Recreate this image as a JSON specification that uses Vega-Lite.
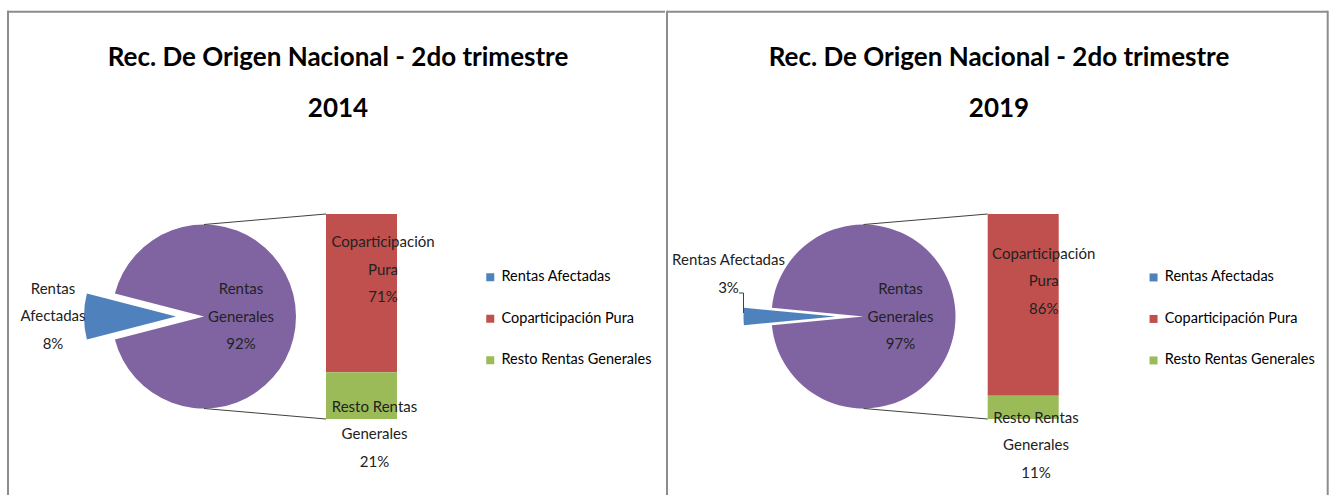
{
  "$schema": "https://vega.github.io/schema/vega-lite/v6.json",
  "padding": {"left": 0, "top": 9.7, "right": 0, "bottom": 0},
  "background": "white",
  "spacing": 0,
  "config": {"view": {"stroke": null}, "font": "Lato"},
  "resolve": {
    "scale": {"color": "independent", "theta": "independent", "x": "independent", "y": "independent"},
    "legend": {"color": "independent"}
  },
  "datasets": {
    "pie2014": [
      {"cat": "Rentas Afectadas", "value": 8, "label": "Rentas\nAfectadas\n8%"},
      {"cat": "Rentas Generales", "value": 92, "label": "Rentas\nGenerales\n92%"}
    ],
    "bar2014": [
      {"year": "2014", "cat": "Coparticipación Pura", "value": 71, "label": "Coparticipación\nPura\n71%"},
      {"year": "2014", "cat": "Resto Rentas Generales", "value": 21, "label": "Resto Rentas\nGenerales\n21%"}
    ],
    "pie2019": [
      {"cat": "Rentas Afectadas", "value": 3, "label": "Rentas Afectadas\n3%"},
      {"cat": "Rentas Generales", "value": 97, "label": "Rentas\nGenerales\n97%"}
    ],
    "bar2019": [
      {"year": "2019", "cat": "Coparticipación Pura", "value": 86, "label": "Coparticipación\nPura\n86%"},
      {"year": "2019", "cat": "Resto Rentas Generales", "value": 11, "label": "Resto Rentas\nGenerales\n11%"}
    ],
    "deco": [{}]
  },
  "hconcat": [
    {
      "width": 665,
      "height": 485.3,
      "title": {"text": ["Rec. De Origen Nacional - 2do trimestre", "2014"], "fontSize": 26, "font": "Lato", "fontWeight": "bold", "lineHeight": 51, "baseline": "bottom", "offset": -137.8, "anchor": "middle", "dx": 5.5, "color": "#000000", "frame": "group"},
      "layer": [
        {
          "data": {"name": "bar2014"},
          "mark": {"type": "bar"},
          "encoding": {
            "x": {"field": "year", "type": "nominal", "scale": {"range": [326, 397], "paddingInner": 0, "paddingOuter": 0}, "axis": null},
            "y": {"field": "value", "type": "quantitative", "stack": "normalize", "scale": {"range": [408.3, 203.3]}, "axis": null},
            "color": {
              "field": "cat", "type": "nominal",
              "scale": {"domain": ["Rentas Afectadas", "Coparticipación Pura", "Resto Rentas Generales", "Rentas Generales"], "range": ["#4F81BD", "#C0504D", "#9BBB59", "#8064A2"]},
              "legend": {"title": null, "orient": "none", "legendX": 483, "legendY": 259.3, "values": ["Rentas Afectadas", "Coparticipación Pura", "Resto Rentas Generales"], "symbolType": "square", "symbolSize": 64, "symbolStrokeWidth": 0, "labelFont": "Lato", "labelFontSize": 14.5, "labelColor": "#000000", "labelOffset": 4, "rowPadding": 26.5, "padding": 0, "labelLimit": 300}
            },
            "order": {"field": "cat", "sort": "descending"}
          }
        },
        {
          "data": {"name": "bar2014"},
          "mark": {"type": "text", "dx": 21.5, "dy": 28, "baseline": "middle", "align": "center", "lineBreak": "\n", "lineHeight": 27.5, "fontSize": 15, "font": "Lato", "color": "#222222"},
          "encoding": {
            "x": {"field": "year", "type": "nominal", "axis": null},
            "y": {"field": "value", "type": "quantitative", "stack": "normalize", "axis": null},
            "detail": {"field": "cat"},
            "order": {"field": "cat", "sort": "descending"},
            "text": {"field": "label"},
            "opacity": {"condition": {"test": "datum.cat === 'Coparticipación Pura'", "value": 1}, "value": 0}
          }
        },
        {
          "data": {"name": "bar2014"},
          "mark": {"type": "text", "dx": 13, "dy": 34.5, "baseline": "middle", "align": "center", "lineBreak": "\n", "lineHeight": 27.5, "fontSize": 15, "font": "Lato", "color": "#222222"},
          "encoding": {
            "x": {"field": "year", "type": "nominal", "axis": null},
            "y": {"field": "value", "type": "quantitative", "stack": "normalize", "axis": null},
            "detail": {"field": "cat"},
            "order": {"field": "cat", "sort": "descending"},
            "text": {"field": "label"},
            "opacity": {"condition": {"test": "datum.cat === 'Resto Rentas Generales'", "value": 1}, "value": 0}
          }
        },
        {
          "data": {"name": "pie2014"},
          "mark": {"type": "arc", "x": 204, "y": 305.8, "outerRadius": 92},
          "encoding": {
            "theta": {"field": "value", "type": "quantitative", "stack": true, "scale": {"domain": [0, 100], "range": [4.4611, 10.7443]}},
            "color": {"field": "cat", "type": "nominal"},
            "order": {"field": "cat", "sort": "ascending"},
            "opacity": {"condition": {"test": "datum.cat === 'Rentas Generales'", "value": 1}, "value": 0}
          }
        },
        {
          "data": {"name": "pie2014"},
          "mark": {"type": "arc", "x": 176, "y": 305.8, "outerRadius": 92},
          "encoding": {
            "theta": {"field": "value", "type": "quantitative", "stack": true},
            "color": {"field": "cat", "type": "nominal"},
            "order": {"field": "cat", "sort": "ascending"},
            "opacity": {"condition": {"test": "datum.cat === 'Rentas Afectadas'", "value": 1}, "value": 0}
          }
        },
        {
          "data": {"name": "pie2014"},
          "mark": {"type": "text", "x": 204, "y": 305.8, "radius": 37, "dy": -27.5, "baseline": "middle", "align": "center", "lineBreak": "\n", "lineHeight": 27.5, "fontSize": 15, "font": "Lato", "color": "#222222"},
          "encoding": {
            "theta": {"field": "value", "type": "quantitative", "stack": true},
            "detail": {"field": "cat"},
            "order": {"field": "cat", "sort": "ascending"},
            "text": {"field": "label"},
            "opacity": {"condition": {"test": "datum.cat === 'Rentas Generales'", "value": 1}, "value": 0}
          }
        },
        {
          "data": {"name": "pie2014"},
          "mark": {"type": "text", "x": 176, "y": 305.8, "radius": 123, "dy": -27.5, "baseline": "middle", "align": "center", "lineBreak": "\n", "lineHeight": 27.5, "fontSize": 15, "font": "Lato", "color": "#222222"},
          "encoding": {
            "theta": {"field": "value", "type": "quantitative", "stack": true},
            "detail": {"field": "cat"},
            "order": {"field": "cat", "sort": "ascending"},
            "text": {"field": "label"},
            "opacity": {"condition": {"test": "datum.cat === 'Rentas Afectadas'", "value": 1}, "value": 0}
          }
        },
        {"data": {"name": "deco"}, "mark": {"type": "rule", "color": "#404040", "strokeWidth": 1}, "encoding": {"x": {"value": 204}, "y": {"value": 213.8}, "x2": {"value": 326}, "y2": {"value": 203.3}}},
        {"data": {"name": "deco"}, "mark": {"type": "rule", "color": "#404040", "strokeWidth": 1}, "encoding": {"x": {"value": 204}, "y": {"value": 397.8}, "x2": {"value": 326}, "y2": {"value": 408.3}}},
        {"data": {"name": "deco"}, "mark": {"type": "rule", "color": "#8c8c8c", "strokeWidth": 2}, "encoding": {"x": {"value": 7}, "y": {"value": 1}, "x2": {"value": 665}, "y2": {"value": 1}}},
        {"data": {"name": "deco"}, "mark": {"type": "rule", "color": "#8c8c8c", "strokeWidth": 2}, "encoding": {"x": {"value": 8}, "y": {"value": 0}, "x2": {"value": 8}, "y2": {"value": 485.3}}}
      ]
    },
    {
      "width": 664,
      "height": 485.3,
      "title": {"text": ["Rec. De Origen Nacional - 2do trimestre", "2019"], "fontSize": 26, "font": "Lato", "fontWeight": "bold", "lineHeight": 51, "baseline": "bottom", "offset": -137.8, "anchor": "middle", "dx": 0, "color": "#000000", "frame": "group"},
      "layer": [
        {
          "data": {"name": "bar2019"},
          "mark": {"type": "bar"},
          "encoding": {
            "x": {"field": "year", "type": "nominal", "scale": {"range": [320.7, 391.7], "paddingInner": 0, "paddingOuter": 0}, "axis": null},
            "y": {"field": "value", "type": "quantitative", "stack": "normalize", "scale": {"range": [408.3, 203.3]}, "axis": null},
            "color": {
              "field": "cat", "type": "nominal",
              "scale": {"domain": ["Rentas Afectadas", "Coparticipación Pura", "Resto Rentas Generales", "Rentas Generales"], "range": ["#4F81BD", "#C0504D", "#9BBB59", "#8064A2"]},
              "legend": {"title": null, "orient": "none", "legendX": 479.3, "legendY": 259.5, "values": ["Rentas Afectadas", "Coparticipación Pura", "Resto Rentas Generales"], "symbolType": "square", "symbolSize": 64, "symbolStrokeWidth": 0, "labelFont": "Lato", "labelFontSize": 14.5, "labelColor": "#000000", "labelOffset": 4, "rowPadding": 26.5, "padding": 0, "labelLimit": 300}
            },
            "order": {"field": "cat", "sort": "descending"}
          }
        },
        {
          "data": {"name": "bar2019"},
          "mark": {"type": "text", "dx": 20.5, "dy": 39.5, "baseline": "middle", "align": "center", "lineBreak": "\n", "lineHeight": 27.5, "fontSize": 15, "font": "Lato", "color": "#222222"},
          "encoding": {
            "x": {"field": "year", "type": "nominal", "axis": null},
            "y": {"field": "value", "type": "quantitative", "stack": "normalize", "axis": null},
            "detail": {"field": "cat"},
            "order": {"field": "cat", "sort": "descending"},
            "text": {"field": "label"},
            "opacity": {"condition": {"test": "datum.cat === 'Coparticipación Pura'", "value": 1}, "value": 0}
          }
        },
        {
          "data": {"name": "bar2019"},
          "mark": {"type": "text", "dx": 12.8, "dy": 22, "baseline": "middle", "align": "center", "lineBreak": "\n", "lineHeight": 27.5, "fontSize": 15, "font": "Lato", "color": "#222222"},
          "encoding": {
            "x": {"field": "year", "type": "nominal", "axis": null},
            "y": {"field": "value", "type": "quantitative", "stack": "normalize", "axis": null},
            "detail": {"field": "cat"},
            "order": {"field": "cat", "sort": "descending"},
            "text": {"field": "label"},
            "opacity": {"condition": {"test": "datum.cat === 'Resto Rentas Generales'", "value": 1}, "value": 0}
          }
        },
        {
          "data": {"name": "pie2019"},
          "mark": {"type": "arc", "x": 196.5, "y": 305.8, "outerRadius": 92},
          "encoding": {
            "theta": {"field": "value", "type": "quantitative", "stack": true, "scale": {"domain": [0, 100], "range": [4.6182, 10.9014]}},
            "color": {"field": "cat", "type": "nominal"},
            "order": {"field": "cat", "sort": "ascending"},
            "opacity": {"condition": {"test": "datum.cat === 'Rentas Generales'", "value": 1}, "value": 0}
          }
        },
        {
          "data": {"name": "pie2019"},
          "mark": {"type": "arc", "x": 168.5, "y": 305.8, "outerRadius": 92},
          "encoding": {
            "theta": {"field": "value", "type": "quantitative", "stack": true},
            "color": {"field": "cat", "type": "nominal"},
            "order": {"field": "cat", "sort": "ascending"},
            "opacity": {"condition": {"test": "datum.cat === 'Rentas Afectadas'", "value": 1}, "value": 0}
          }
        },
        {
          "data": {"name": "pie2019"},
          "mark": {"type": "text", "x": 196.5, "y": 305.8, "radius": 37, "dy": -27.5, "baseline": "middle", "align": "center", "lineBreak": "\n", "lineHeight": 27.5, "fontSize": 15, "font": "Lato", "color": "#222222"},
          "encoding": {
            "theta": {"field": "value", "type": "quantitative", "stack": true},
            "detail": {"field": "cat"},
            "order": {"field": "cat", "sort": "ascending"},
            "text": {"field": "label"},
            "opacity": {"condition": {"test": "datum.cat === 'Rentas Generales'", "value": 1}, "value": 0}
          }
        },
        {
          "data": {"name": "pie2019"},
          "mark": {"type": "text", "x": 168.5, "y": 305.8, "radius": 107, "dy": -56.5, "baseline": "middle", "align": "center", "lineBreak": "\n", "lineHeight": 28, "fontSize": 15, "font": "Lato", "color": "#222222"},
          "encoding": {
            "theta": {"field": "value", "type": "quantitative", "stack": true},
            "detail": {"field": "cat"},
            "order": {"field": "cat", "sort": "ascending"},
            "text": {"field": "label"},
            "opacity": {"condition": {"test": "datum.cat === 'Rentas Afectadas'", "value": 1}, "value": 0}
          }
        },
        {"data": {"name": "deco"}, "mark": {"type": "rule", "color": "#404040", "strokeWidth": 1}, "encoding": {"x": {"value": 196.5}, "y": {"value": 213.8}, "x2": {"value": 320.7}, "y2": {"value": 203.3}}},
        {"data": {"name": "deco"}, "mark": {"type": "rule", "color": "#404040", "strokeWidth": 1}, "encoding": {"x": {"value": 196.5}, "y": {"value": 397.8}, "x2": {"value": 320.7}, "y2": {"value": 408.3}}},
        {"data": {"name": "deco"}, "mark": {"type": "rule", "color": "#404040", "strokeWidth": 1}, "encoding": {"x": {"value": 72}, "y": {"value": 282.3}, "x2": {"value": 76.5}, "y2": {"value": 282.3}}},
        {"data": {"name": "deco"}, "mark": {"type": "rule", "color": "#404040", "strokeWidth": 1}, "encoding": {"x": {"value": 76.5}, "y": {"value": 282.3}, "x2": {"value": 76.5}, "y2": {"value": 302.3}}},
        {"data": {"name": "deco"}, "mark": {"type": "rule", "color": "#8c8c8c", "strokeWidth": 2}, "encoding": {"x": {"value": 0}, "y": {"value": 1}, "x2": {"value": 661}, "y2": {"value": 1}}},
        {"data": {"name": "deco"}, "mark": {"type": "rule", "color": "#8c8c8c", "strokeWidth": 2}, "encoding": {"x": {"value": 0}, "y": {"value": 0}, "x2": {"value": 0}, "y2": {"value": 485.3}}},
        {"data": {"name": "deco"}, "mark": {"type": "rule", "color": "#8c8c8c", "strokeWidth": 2}, "encoding": {"x": {"value": 660.7}, "y": {"value": 0}, "x2": {"value": 660.7}, "y2": {"value": 485.3}}}
      ]
    }
  ]
}
